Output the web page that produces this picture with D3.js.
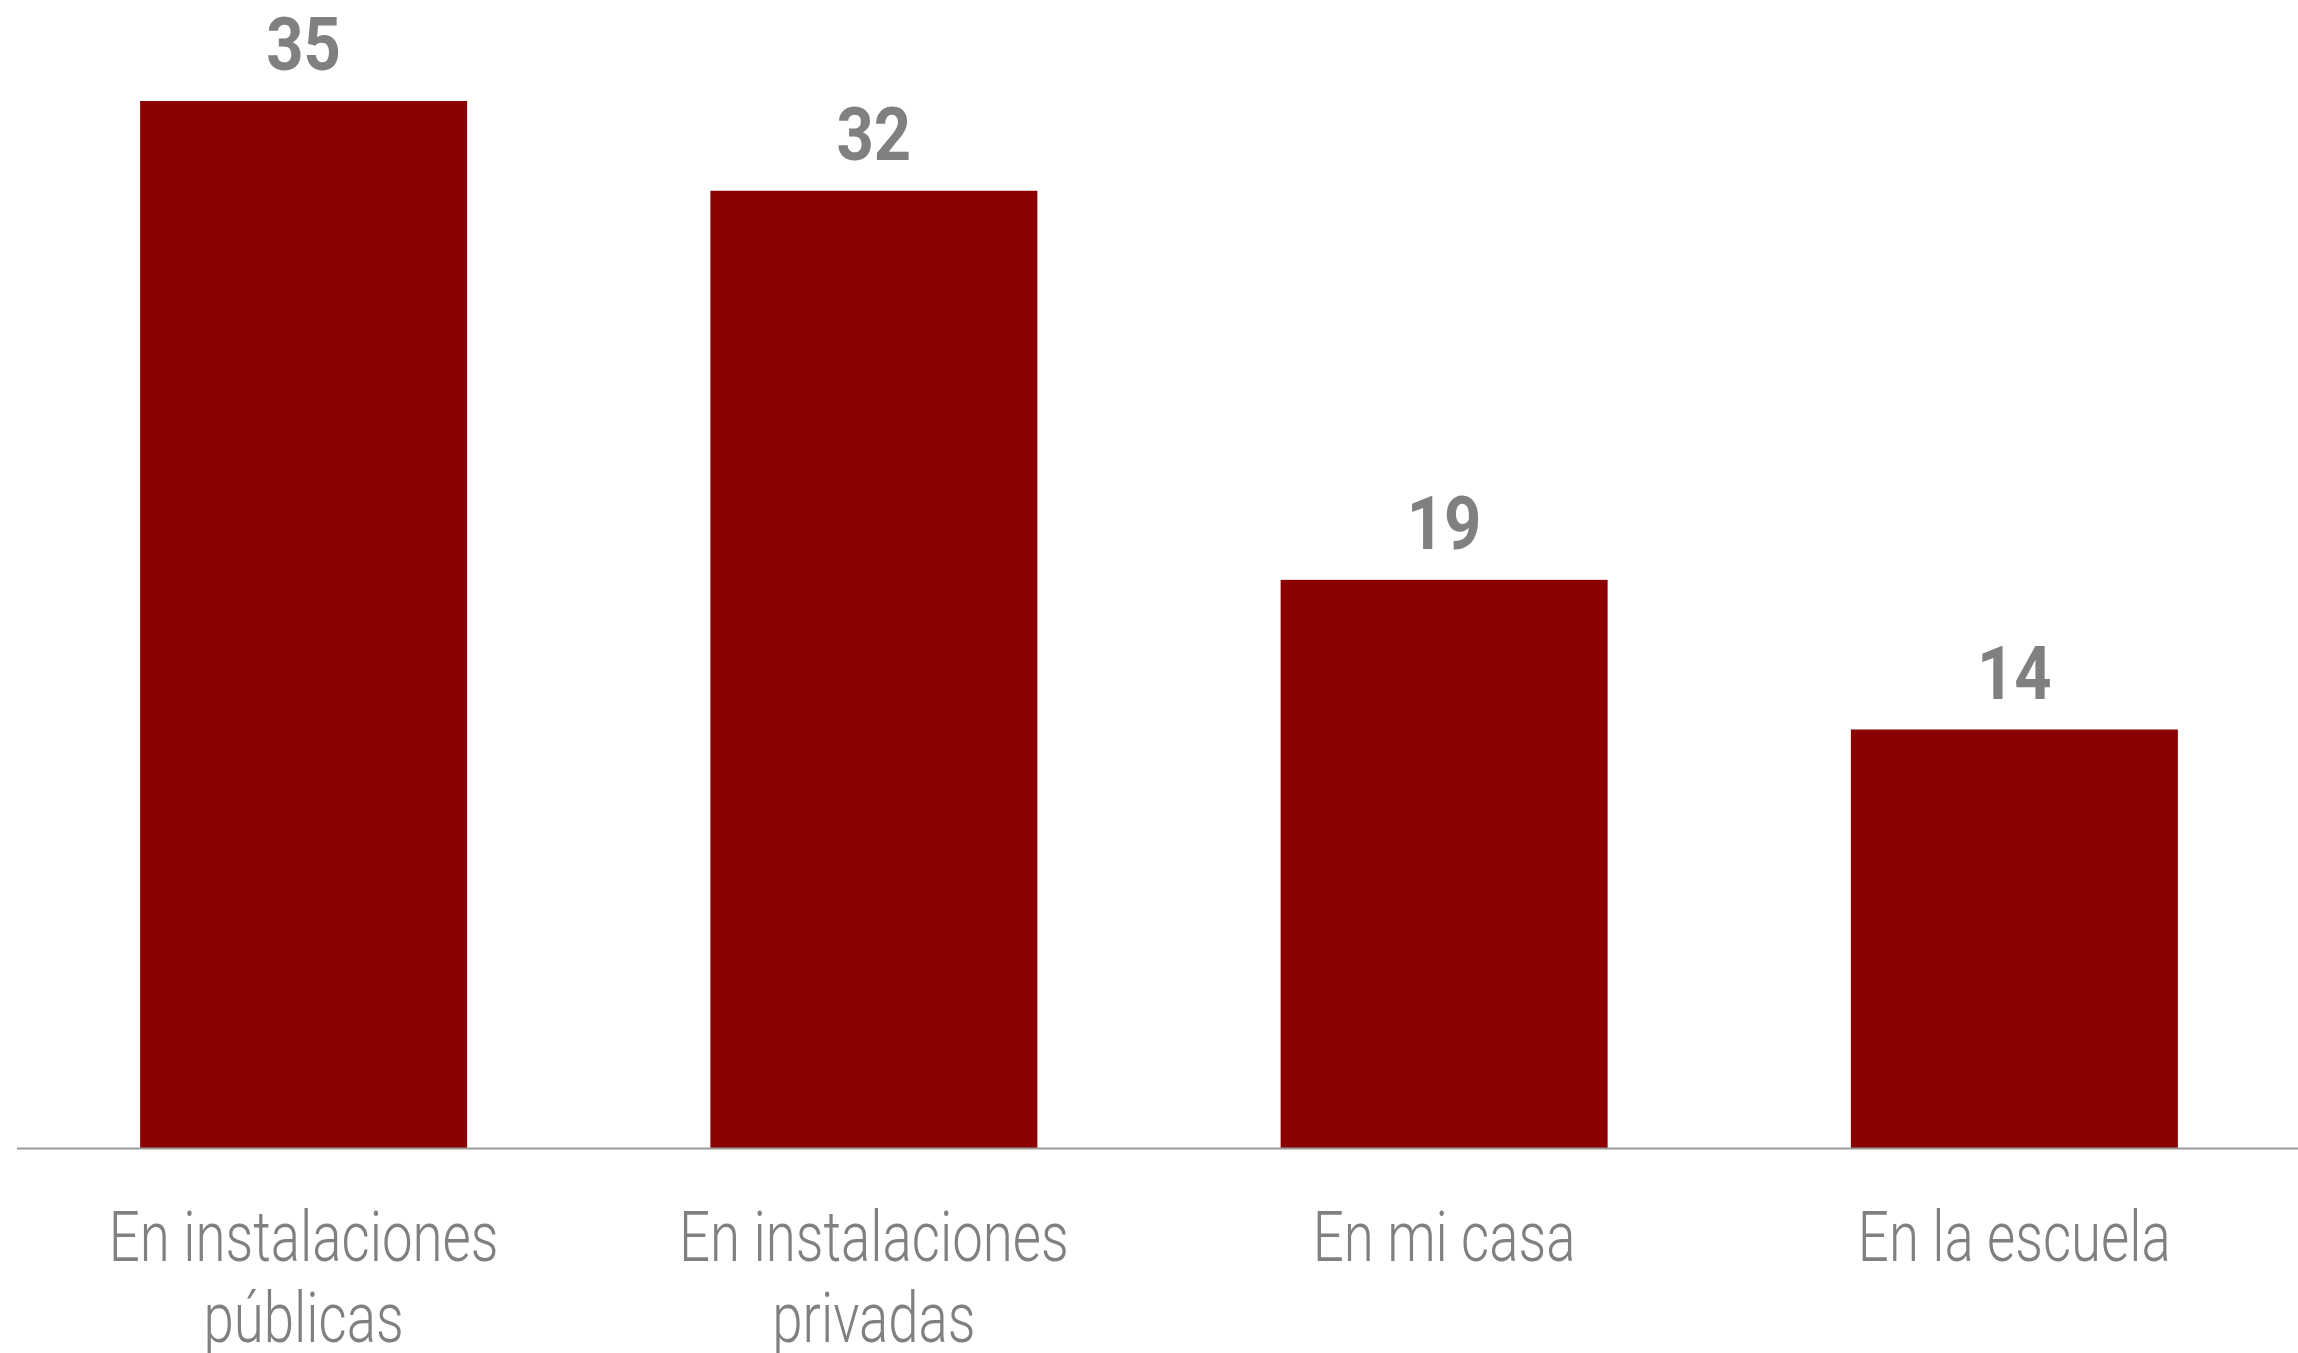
<!DOCTYPE html>
<html>
<head>
<meta charset="utf-8">
<script src="https://cdn.jsdelivr.net/npm/d3@7"></script>
<style>
  html, body { margin: 0; padding: 0; background: #ffffff; }
  svg { display: block; }
</style>
</head>
<body>
<svg id="chart" width="2298" height="1353"></svg>
<script>
// Categories (label lines) and values
const categories = [
  ["En instalaciones", "públicas"],
  ["En instalaciones", "privadas"],
  ["En mi casa"],
  ["En la escuela"]
];
const values = [35, 32, 19, 14];

const W = 2298, H = 1353;
const baseline = 1148.5;
const svg = d3.select("#chart");

const keys = categories.map(c => c.join(" "));
const x = d3.scaleBand()
  .domain(keys)
  .range([18.5, W + 1.5])
  .paddingInner(0.4266)
  .paddingOuter(0.2133);

const y = d3.scaleLinear()
  .domain([0, 35])
  .range([baseline, baseline - 1047.5]);

// Bars
svg.append("g")
  .selectAll("rect")
  .data(values)
  .join("rect")
  .attr("x", (d, i) => x(keys[i]))
  .attr("width", x.bandwidth())
  .attr("y", d => y(d))
  .attr("height", d => y(0) - y(d))
  .attr("fill", "#8b0000");

// Baseline axis
const axis = d3.axisBottom(x).tickSize(0).tickFormat("");
const gAxis = svg.append("g")
  .attr("transform", `translate(0,${baseline})`)
  .call(axis);
gAxis.select(".domain")
  .attr("d", `M17,0H${W}`)
  .attr("stroke", "#9a9a9a")
  .attr("stroke-width", 2);

// Value labels above bars
svg.append("g")
  .selectAll("g")
  .data(values)
  .join("g")
  .attr("transform", (d, i) => `translate(${x(keys[i]) + x.bandwidth() / 2},${y(d) - 31}) scale(0.88,1)`)
  .append("text")
  .attr("text-anchor", "middle")
  .attr("font-family", "Roboto, sans-serif")
  .attr("font-weight", 700)
  .attr("font-size", 74)
  .attr("fill", "#808080")
  .text(d => d);

// Category labels below the axis
const lab = svg.append("g")
  .selectAll("g")
  .data(categories)
  .join("g")
  .attr("transform", (d, i) => `translate(${x(keys[i]) + x.bandwidth() / 2},1261) scale(0.78,1)`);

lab.append("text")
  .attr("text-anchor", "middle")
  .attr("font-family", "Roboto, sans-serif")
  .attr("font-weight", 300)
  .attr("font-size", 70)
  .attr("fill", "#808080")
  .selectAll("tspan")
  .data(d => d)
  .join("tspan")
  .attr("x", 0)
  .attr("dy", (d, i) => i === 0 ? 0 : 81)
  .text(d => d);
</script>
</body>
</html>
